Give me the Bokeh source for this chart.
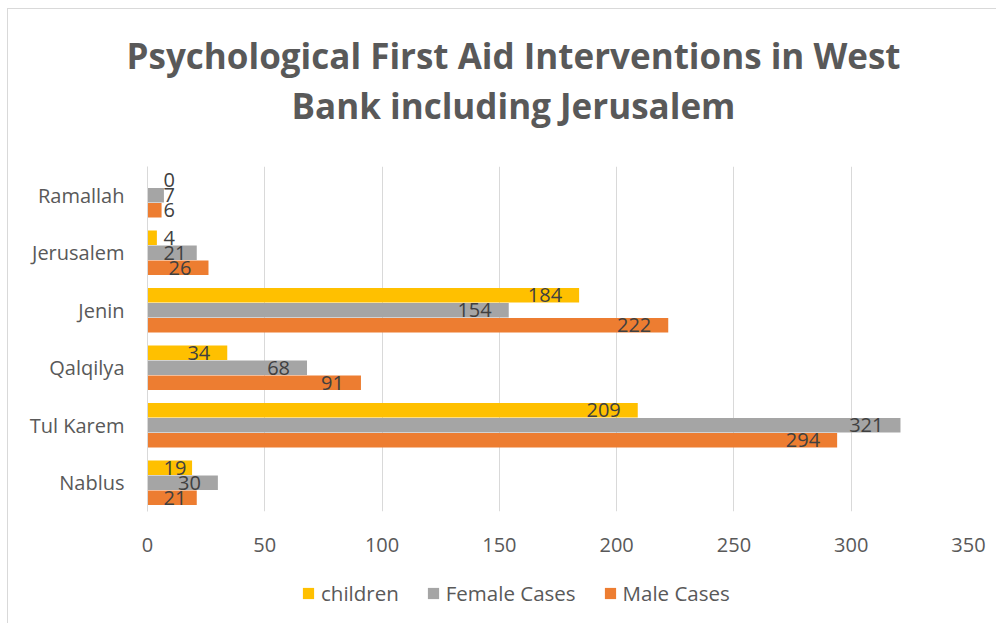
from bokeh.plotting import figure
from bokeh.layouts import column
from bokeh.models import (ColumnDataSource, Legend, LegendItem, Title, FactorRange,
                          FixedTicker, LinearAxis, Range1d)
from bokeh.transform import dodge
from bokeh.core.properties import value, field
from bokeh.embed import file_html
from bokeh.resources import INLINE

# ---- data ----
cities = ["Nablus", "Tul Karem", "Qalqilya", "Jenin", "Jerusalem", "Ramallah"]
children = [19, 209, 34, 184, 4, 0]
female_cases = [30, 321, 68, 154, 21, 7]
male_cases = [21, 294, 91, 222, 26, 6]
x_ticks = [0, 50, 100, 150, 200, 250, 300, 350]
series_names = ["children", "Female Cases", "Male Cases"]
title_lines = ["Psychological First Aid Interventions in West", "Bank including Jerusalem"]

FONT = "Open Sans"
TXT = "#595959"
colors = ["#FFC000", "#A5A5A5", "#ED7D31"]
offsets = [0.26, 0.0, -0.26]

p = figure(y_range=FactorRange(*cities), x_range=(0, 350),
           width=989, height=561, output_backend="svg", toolbar_location=None,
           min_border_left=139, min_border_right=29, min_border_top=157, min_border_bottom=59)
p.title.visible = False
p.outline_line_color = None
p.styles = {"border-left": "1px solid #D9D9D9", "border-top": "1px solid #D9D9D9",
            "margin-left": "7px", "margin-top": "8px"}

p.xgrid.grid_line_color = "#D9D9D9"
p.ygrid.visible = False
p.xaxis.ticker = FixedTicker(ticks=x_ticks)
p.xaxis.axis_line_color = None
p.xaxis.major_tick_line_color = None
p.xaxis.minor_tick_line_color = None
p.xaxis.major_label_standoff = 20
p.yaxis.axis_line_color = "#D9D9D9"
p.yaxis.major_tick_line_color = None
p.yaxis.minor_tick_line_color = None
p.yaxis.major_label_standoff = 17
for ax in (p.xaxis, p.yaxis):
    ax.major_label_text_font = FONT
    ax.major_label_text_font_size = "20px"
    ax.major_label_text_color = TXT

px_per_unit = 821 / 350.0

for vals, col, off in zip([children, female_cases, male_cases], colors, offsets):
    fits = [v * px_per_unit - 17 - len(str(v)) * 11.4 >= 16 for v in vals]
    src = ColumnDataSource(dict(
        city=cities, v=vals, t=[str(v) for v in vals],
        lx=[v if f else 0 for v, f in zip(vals, fits)],
        al=["right" if f else "left" for f in fits],
        xo=[-17 if f else 16 for f in fits],
    ))
    p.hbar(y=dodge("city", off, range=p.y_range), left=0, right="v", height=0.25,
           source=src, fill_color=col, line_color=None)
    p.text(x="lx", y=dodge("city", off, range=p.y_range), text="t", source=src,
           text_align=field("al"), x_offset=field("xo"), text_baseline="middle",
           text_font=value(FONT), text_font_size="20px", text_color="#404040")

# blank spacer strip between the plot frame and the title lines
spacer = LinearAxis(ticker=FixedTicker(ticks=[x_ticks[-1]]), axis_line_color=None,
                    major_tick_out=37, major_tick_in=0, major_label_standoff=0,
                    major_tick_line_color="white", minor_tick_line_color=None,
                    major_label_overrides={x_ticks[-1]: ""},
                    major_label_text_font_size="0px")
p.add_layout(spacer, "above")

for line, off, so in [(title_lines[1], 144, 2), (title_lines[0], -21, 0)]:
    p.add_layout(Title(text=line, align="left", offset=off, text_font=FONT,
                       text_font_size="35px", text_font_style="bold", text_color=TXT,
                       standoff=so), "above")

# legend strip below the chart
lf = figure(width=989, height=54, output_backend="svg", toolbar_location=None,
            min_border=0, x_axis_type=None, y_axis_type=None,
            x_range=Range1d(0, 1), y_range=Range1d(0, 1))
lf.title.visible = False
lf.outline_line_color = None
lf.xgrid.visible = False
lf.ygrid.visible = False
lf.styles = {"border-left": "1px solid #D9D9D9", "margin-left": "7px"}
items = []
for name, col in zip(series_names, colors):
    r = lf.hbar(y=[0.5], right=[0], left=[0], height=0.5, fill_color=col, line_color=None)
    items.append(LegendItem(label=name, renderers=[r]))
legend = Legend(items=items, orientation="horizontal", location=(154, 16),
                glyph_width=14, glyph_height=14, label_text_font=FONT,
                label_text_font_size="20.5px", label_text_color=TXT,
                spacing=27, label_standoff=6, padding=0, margin=0,
                border_line_alpha=0, background_fill_alpha=0)
lf.add_layout(legend, "center")

open("out.html", "w").write(file_html(column(p, lf, spacing=0), INLINE))
